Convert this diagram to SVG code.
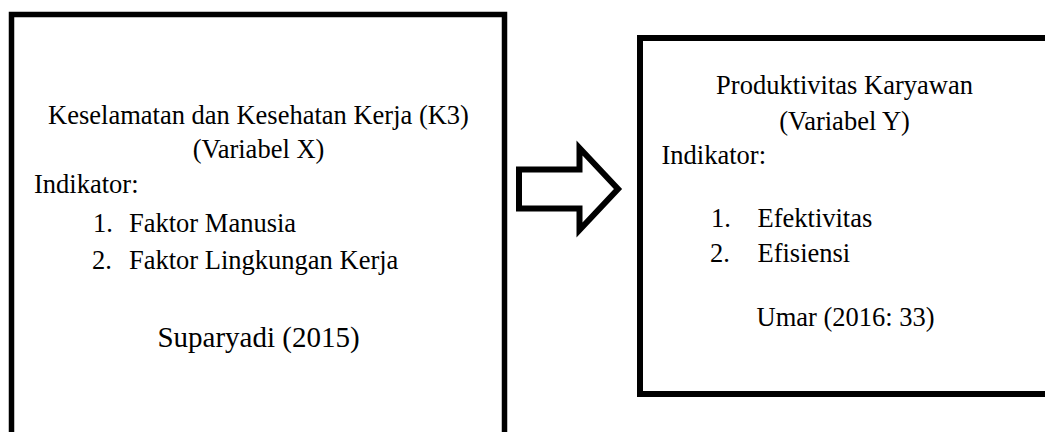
<svg xmlns="http://www.w3.org/2000/svg" width="1045" height="432" viewBox="0 0 1045 432">
<style>
.box{fill:#fff;stroke:#000;stroke-width:5.5}
.t{font-family:"Liberation Serif","Times New Roman",serif;font-size:26.5px;fill:#000}
.c{text-anchor:middle}
.arrow{fill:#fff;stroke:#000;stroke-width:6;stroke-linejoin:miter;stroke-miterlimit:10}
</style>
<rect width="1045" height="432" fill="#fff"/>
<g id="node-x">
<rect class="box" x="11.5" y="14.5" width="493" height="440"/>
<text class="t c" x="258.5" y="124">Keselamatan dan Kesehatan Kerja (K3)</text>
<text class="t c" x="258.5" y="158">(Variabel X)</text>
<text class="t" x="34" y="193">Indikator:</text>
<text class="t" x="93" y="232">1.</text>
<text class="t" x="129" y="232">Faktor Manusia</text>
<text class="t" x="92" y="269">2.</text>
<text class="t" x="129" y="269">Faktor Lingkungan Kerja</text>
<text class="t c" x="258.5" y="347" style="font-size:29px">Suparyadi (2015)</text>
</g>
<g id="connectors">
<polygon class="arrow" points="519,169.5 579.5,169.5 579.5,148 618,189 579.5,230 579.5,208.5 519,208.5"/>
</g>
<g id="node-y">
<rect class="box" x="640" y="38" width="420" height="356" style="stroke-width:6"/>
<text class="t c" x="844.5" y="94">Produktivitas Karyawan</text>
<text class="t c" x="844.5" y="130">(Variabel Y)</text>
<text class="t" x="661.5" y="164">Indikator:</text>
<text class="t" x="711" y="227">1.</text>
<text class="t" x="757.5" y="227">Efektivitas</text>
<text class="t" x="710" y="262">2.</text>
<text class="t" x="757.5" y="262">Efisiensi</text>
<text class="t" x="756.5" y="326">Umar (2016: 33)</text>
</g>
</svg>
